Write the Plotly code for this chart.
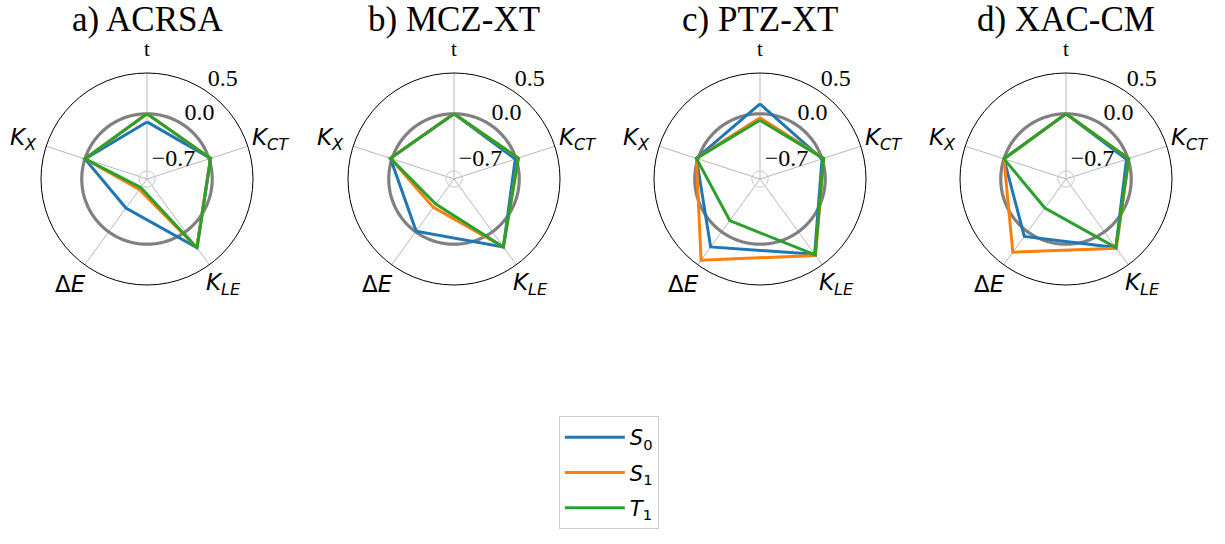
import numpy as np
import plotly.graph_objects as go

# Descriptor axes (clockwise from the top)
axis_names = ["t", "K_CT", "K_LE", "ΔE", "K_X"]
axis_labels = [
    "t",
    "<i>K</i><sub><i>CT</i></sub>",
    "<i>K</i><sub><i>LE</i></sub>",
    "Δ<i>E</i>",
    "<i>K</i><sub><i>X</i></sub>",
]
axis_label_fonts = [
    dict(family="Liberation Serif", size=21, color="black"),
    dict(family="DejaVu Sans", size=23, color="black"),
    dict(family="DejaVu Sans", size=23, color="black"),
    dict(family="DejaVu Sans", size=23, color="black"),
    dict(family="DejaVu Sans", size=23, color="black"),
]

panel_titles = ["a) ACRSA", "b) MCZ-XT", "c) PTZ-XT", "d) XAC-CM"]
state_names = ["<i>S</i><sub>0</sub>", "<i>S</i><sub>1</sub>", "<i>T</i><sub>1</sub>"]
state_colors = ["#1f77b4", "#ff7f0e", "#2ca02c"]

# values per panel: [t, K_CT, K_LE, dE, K_X]
acrsa_s0 = [-0.10, 0.02, 0.24, -0.36, 0.00]
acrsa_s1 = [0.00, 0.02, 0.24, -0.64, 0.00]
acrsa_t1 = [0.00, 0.02, 0.245, -0.67, 0.00]

mczxt_s0 = [0.00, -0.01, 0.23, -0.01, 0.02]
mczxt_s1 = [0.00, 0.03, 0.23, -0.37, 0.02]
mczxt_t1 = [0.00, 0.03, 0.23, -0.42, 0.02]

ptzxt_s0 = [0.12, 0.00, 0.34, 0.23, 0.02]
ptzxt_s1 = [-0.05, 0.02, 0.36, 0.43, 0.02]
ptzxt_t1 = [-0.08, 0.02, 0.35, -0.17, 0.02]

xaccm_s0 = [0.00, -0.02, 0.24, 0.07, 0.00]
xaccm_s1 = [0.00, 0.01, 0.25, 0.31, 0.00]
xaccm_t1 = [0.00, 0.01, 0.24, -0.36, 0.00]

panels = [
    [acrsa_s0, acrsa_s1, acrsa_t1],
    [mczxt_s0, mczxt_s1, mczxt_t1],
    [ptzxt_s0, ptzxt_s1, ptzxt_t1],
    [xaccm_s0, xaccm_s1, xaccm_t1],
]

r_ticks = [-0.7, 0.0, 0.5]
r_ticktext = ["\u22120.7", "0.0", "0.5"]
r_range = [-0.8, 0.5]
r_label_theta = 35   # direction of the radial labels, clockwise from the top

W, H = 1225, 544
centers_x = [147, 454, 760, 1066]
center_y = 179
radius = 106
label_dist = 130     # pixel distance of the descriptor names from the centre

n_axes = len(axis_names)
theta = [i * 360.0 / n_axes for i in range(n_axes)]
theta_closed = theta + [theta[0]]
ring_theta = np.linspace(0, 360, 361)

fig = go.Figure()
layout_polars = {}
annotations = []

for p, (series, title) in enumerate(zip(panels, panel_titles)):
    key = "polar" if p == 0 else f"polar{p + 1}"
    sub = "polar" if p == 0 else f"polar{p + 1}"
    cx = centers_x[p]
    layout_polars[key] = dict(
        domain=dict(
            x=[(cx - radius) / W, (cx + radius) / W],
            y=[1 - (center_y + radius) / H, 1 - (center_y - radius) / H],
        ),
        bgcolor="white",
        radialaxis=dict(
            range=r_range,
            tickmode="array",
            tickvals=r_ticks,
            showticklabels=False,
            showline=False,
            ticks="",
            gridcolor="#c8c8c8",
            gridwidth=1,
        ),
        angularaxis=dict(
            direction="clockwise",
            rotation=90,
            tickmode="array",
            tickvals=theta,
            showticklabels=False,
            showline=True,
            linecolor="black",
            linewidth=1,
            gridcolor="#b8b8b8",
            gridwidth=1,
            ticks="",
        ),
    )

    # reference ring at zero
    fig.add_trace(go.Scatterpolar(
        r=[0.0] * len(ring_theta), theta=ring_theta, mode="lines",
        line=dict(color="#808080", width=3.2), hoverinfo="skip",
        showlegend=False, subplot=sub,
    ))

    for s, vals in enumerate(series):
        fig.add_trace(go.Scatterpolar(
            r=list(vals) + [vals[0]], theta=theta_closed, mode="lines",
            line=dict(color=state_colors[s], width=3),
            name=state_names[s], legendgroup=state_names[s],
            showlegend=(p == 0), subplot=sub,
        ))

    # radial tick labels
    fig.add_trace(go.Scatterpolar(
        r=r_ticks, theta=[r_label_theta] * len(r_ticks), mode="text",
        text=r_ticktext, textposition="top right", cliponaxis=False,
        textfont=dict(family="Liberation Serif", size=24, color="black"),
        hoverinfo="skip", showlegend=False, subplot=sub,
    ))

    # descriptor names around the rim
    for ang, lab, fnt in zip(theta, axis_labels, axis_label_fonts):
        a = np.deg2rad(ang)
        annotations.append(dict(
            text=lab,
            x=(cx + label_dist * np.sin(a)) / W,
            y=1 - (center_y - label_dist * np.cos(a)) / H,
            xref="paper", yref="paper", xanchor="center", yanchor="middle",
            showarrow=False, font=fnt,
        ))

    annotations.append(dict(
        text=title, x=cx / W, y=1.0, yshift=2, xref="paper", yref="paper",
        xanchor="center", yanchor="top", showarrow=False,
        font=dict(family="Liberation Serif", size=35, color="black"),
    ))

fig.update_layout(
    width=W, height=H,
    margin=dict(l=0, r=0, t=0, b=0),
    paper_bgcolor="white",
    plot_bgcolor="white",
    annotations=annotations,
    legend=dict(
        x=0.497, xanchor="center", y=1 - 416 / H, yanchor="top",
        bordercolor="#cccccc", borderwidth=1, bgcolor="white",
        itemwidth=60, tracegroupgap=5,
        font=dict(family="DejaVu Sans", size=21, color="black"),
    ),
    **layout_polars,
)

fig.write_html("out.html")
